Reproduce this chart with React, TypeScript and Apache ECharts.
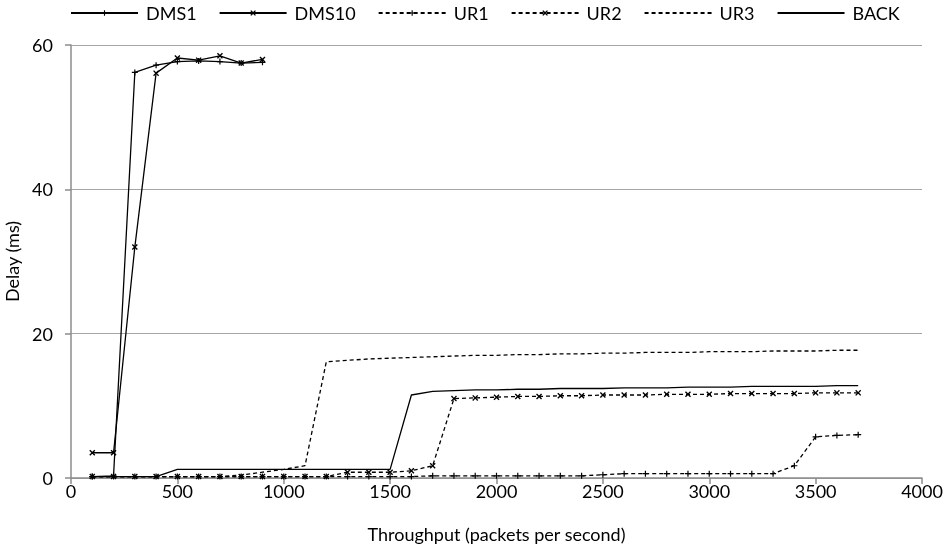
import React, { useEffect, useRef } from "react";
import * as echarts from "echarts";

const xValues = [100,200,300,400,500,600,700,800,900,1000,1100,1200,1300,1400,1500,1600,1700,1800,1900,2000,2100,2200,2300,2400,2500,2600,2700,2800,2900,3000,3100,3200,3300,3400,3500,3600,3700];
const dmsX = [100,200,300,400,500,600,700,800,900];
const dms1 = [0.2,0.3,56.2,57.2,57.7,57.8,57.7,57.5,57.6];
const dms10 = [3.5,3.5,32,56.1,58.2,57.9,58.5,57.5,58.0];
const ur1 = [0.2,0.2,0.2,0.2,0.2,0.2,0.2,0.2,0.2,0.2,0.2,0.2,0.2,0.2,0.2,0.2,0.3,0.3,0.3,0.3,0.3,0.3,0.3,0.3,0.45,0.6,0.6,0.6,0.6,0.6,0.6,0.6,0.6,1.7,5.7,5.9,6.0];
const ur2 = [0.2,0.2,0.2,0.2,0.2,0.2,0.2,0.2,0.2,0.2,0.2,0.2,0.8,0.8,0.8,1.0,1.7,11.0,11.1,11.2,11.3,11.3,11.4,11.4,11.5,11.5,11.5,11.6,11.6,11.6,11.7,11.7,11.7,11.7,11.8,11.8,11.8];
const ur3 = [0.2,0.2,0.2,0.2,0.2,0.2,0.2,0.4,0.8,1.2,1.7,16.1,16.3,16.5,16.6,16.7,16.8,16.9,17.0,17.0,17.1,17.1,17.2,17.2,17.3,17.3,17.4,17.4,17.4,17.5,17.5,17.5,17.6,17.6,17.6,17.7,17.7];
const back = [0.2,0.2,0.2,0.2,1.2,1.2,1.2,1.2,1.2,1.2,1.2,1.2,1.2,1.2,1.2,11.5,12.0,12.1,12.2,12.2,12.3,12.3,12.4,12.4,12.4,12.5,12.5,12.5,12.6,12.6,12.6,12.7,12.7,12.7,12.7,12.8,12.8];
const seriesNames = ["DMS1", "DMS10", "UR1", "UR2", "UR3", "BACK"];
const markerless = ["UR3", "BACK"];

const PLUS = "path://M-0.6,-3H0.6V-0.6H3V0.6H0.6V3H-0.6V0.6H-3V-0.6H-0.6Z";
const CROSS = "path://M-2.5,-1.7L-1.7,-2.5L0,-0.8L1.7,-2.5L2.5,-1.7L0.8,0L2.5,1.7L1.7,2.5L0,0.8L-1.7,2.5L-2.5,1.7L-0.8,0Z";

const pair = (xs: number[], ys: number[]) => ys.map((y, i) => [xs[i], y]);

export default function App() {
  const ref = useRef<HTMLDivElement>(null);
  useEffect(() => {
    if (!ref.current) return;
    const chart = echarts.init(ref.current, null, { renderer: "svg" });
    const font = "Lato";
    const fs = 18;
    const mk = (name: string, data: number[][], dashed: boolean, symbol: string | null) => ({
      name,
      type: "line",
      data,
      symbol: symbol || "none",
      showSymbol: !!symbol,
      symbolSize: 6,
      itemStyle: { color: "#000" },
      lineStyle: { color: "#000", width: 1.3, type: dashed ? [4, 3] : "solid" },
      z: 3,
    });
    chart.setOption({
      animation: false,
      textStyle: { fontFamily: font },
      legend: {
        top: 4,
        left: 70,
        itemWidth: 67,
        itemHeight: 7,
        itemGap: 22,
        padding: 0,
        textStyle: { fontSize: fs, color: "#000", fontFamily: font, padding: [0, 0, 0, 3] },
        data: seriesNames.map((n) =>
          markerless.includes(n) ? { name: n, itemStyle: { opacity: 0 } } : { name: n }
        ),
      },
      grid: { left: 71, right: 25, top: 45, bottom: 74, outerBoundsMode: "none", containLabel: false },
      xAxis: {
        type: "value",
        min: 0,
        max: 4000,
        interval: 500,
        name: "Throughput (packets per second)",
        nameLocation: "middle",
        nameGap: 47,
        nameTextStyle: { fontSize: fs, color: "#000", fontFamily: font },
        axisLine: { show: true, lineStyle: { color: "#8c8c8c", width: 1.5 } },
        axisTick: { show: true, length: 6, lineStyle: { color: "#8c8c8c", width: 1.5 } },
        axisLabel: { fontSize: fs, color: "#000", margin: 4, fontFamily: font, formatter: (v: number) => String(v) },
        splitLine: { show: false },
      },
      yAxis: {
        type: "value",
        min: 0,
        max: 60,
        interval: 20,
        name: "Delay (ms)",
        nameLocation: "middle",
        nameGap: 41,
        nameRotate: 90,
        nameTextStyle: { fontSize: fs, color: "#000", fontFamily: font },
        axisLine: { show: true, lineStyle: { color: "#8c8c8c", width: 1.5 } },
        axisTick: { show: true, length: 6, lineStyle: { color: "#8c8c8c", width: 1.5 } },
        axisLabel: { fontSize: fs, color: "#000", margin: 18, fontFamily: font },
        splitLine: { show: true, lineStyle: { color: "#a6a6a6", width: 1.2 } },
      },
      series: [
        mk("DMS1", pair(dmsX, dms1), false, PLUS),
        mk("DMS10", pair(dmsX, dms10), false, CROSS),
        mk("UR1", pair(xValues, ur1), true, PLUS),
        mk("UR2", pair(xValues, ur2), true, CROSS),
        mk("UR3", pair(xValues, ur3), true, null),
        mk("BACK", pair(xValues, back), false, null),
      ],
    });
    return () => chart.dispose();
  }, []);
  return <div ref={ref} style={{ position: "fixed", left: 0, top: 0, width: 947, height: 552 }} />;
}
